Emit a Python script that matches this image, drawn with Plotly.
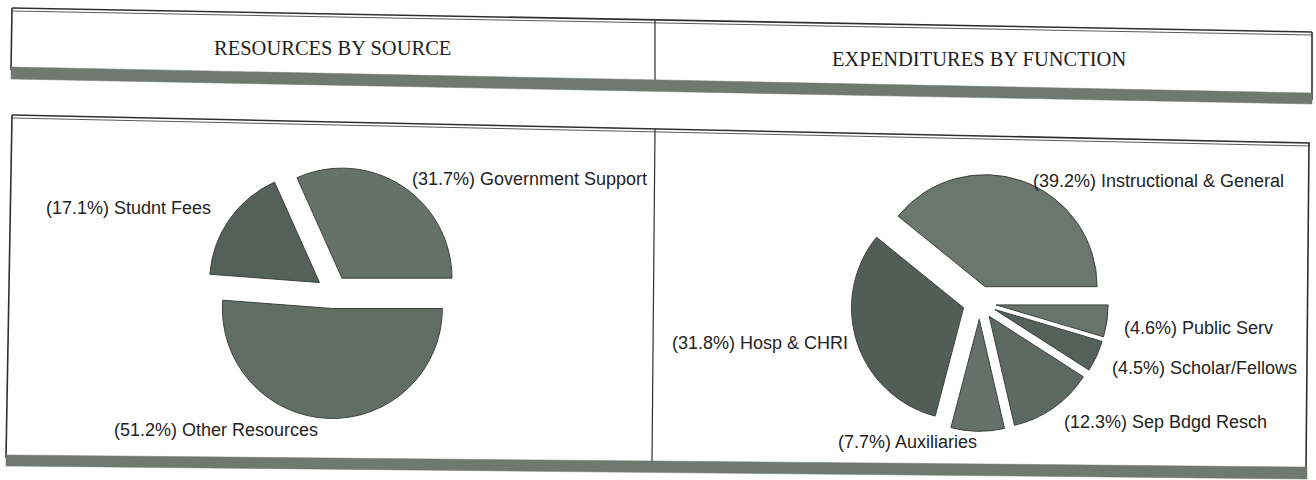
import plotly.graph_objects as go

W, H = 1316, 480

# ---------------- data ----------------
left_title = "RESOURCES BY SOURCE"
right_title = "EXPENDITURES BY FUNCTION"

left_labels = ["Government Support", "Studnt Fees", "Other Resources"]
left_values = [31.7, 17.1, 51.2]

right_labels = ["Instructional & General", "Hosp & CHRI", "Auxiliaries",
                "Sep Bdgd Resch", "Scholar/Fellows", "Public Serv"]
right_values = [39.2, 31.8, 7.7, 12.3, 4.5, 4.6]

# ---------------- styles / layout ----------------
left_colors = ["rgb(101,114,106)", "rgb(84,97,90)", "rgb(97,110,102)"]
right_colors = ["rgb(106,118,110)", "rgb(80,94,87)", "rgb(100,112,105)",
                "rgb(92,105,98)", "rgb(84,97,91)", "rgb(104,115,109)"]

PULL = 0.15
LEFT_PIE = (333, 292, 110)     # centre x, centre y, radius (pixels)
RIGHT_PIE = (979.5, 302.5, 112)

# label anchor (left x, middle y) in pixels
left_label_pos = [(410, 179), (44, 208), (112, 430)]
right_label_pos = [(1031, 181), (670, 343), (836, 442), (1062, 422), (1110, 368), (1122, 328)]

LABEL_FONT = dict(family="Liberation Sans, Arial, sans-serif", size=18, color="rgb(35,35,35)")
TITLE_FONT = dict(family="Liberation Serif, Times New Roman, serif", size=20.5, color="rgb(30,30,30)")
LINE_COL = "rgb(45,48,46)"
BAND_COL = "rgb(112,120,114)"


def px(x):
    return x / W


def py(y):
    return 1 - y / H


def domain(cx, cy, r, pull):
    half = r * (1 + pull)
    return dict(x=[px(cx - half), px(cx + half)], y=[py(cy + half), py(cy - half)])


def first_slice_rotation(values):
    # counterclockwise pies in plotly put the first slice clockwise of `rotation`;
    # choose rotation so the first slice starts at 3 o'clock and runs counterclockwise
    return 90 - 360 * values[0] / sum(values)


def path(points, close=False):
    s = "M " + " L ".join(f"{px(x):.5f},{py(y):.5f}" for x, y in points)
    return s + (" Z" if close else "")


fig = go.Figure()

fig.add_trace(go.Pie(
    labels=left_labels, values=left_values, sort=False,
    direction="counterclockwise", rotation=first_slice_rotation(left_values),
    pull=[PULL] * len(left_values),
    marker=dict(colors=left_colors, line=dict(color="rgb(60,66,62)", width=1)),
    textinfo="none", hoverinfo="label+percent",
    domain=domain(*LEFT_PIE, PULL), showlegend=False,
))

fig.add_trace(go.Pie(
    labels=right_labels, values=right_values, sort=False,
    direction="counterclockwise", rotation=first_slice_rotation(right_values),
    pull=[PULL] * len(right_values),
    marker=dict(colors=right_colors, line=dict(color="rgb(60,66,62)", width=1)),
    textinfo="none", hoverinfo="label+percent",
    domain=domain(*RIGHT_PIE, PULL), showlegend=False,
))

annotations = []
for lab, val, (x, y) in zip(left_labels, left_values, left_label_pos):
    annotations.append(dict(text=f"({val:.1f}%) {lab}", x=px(x), y=py(y), xref="paper", yref="paper",
                            xanchor="left", yanchor="middle", showarrow=False, font=LABEL_FONT))
for lab, val, (x, y) in zip(right_labels, right_values, right_label_pos):
    annotations.append(dict(text=f"({val:.1f}%) {lab}", x=px(x), y=py(y), xref="paper", yref="paper",
                            xanchor="left", yanchor="middle", showarrow=False, font=LABEL_FONT))

annotations.append(dict(text=left_title, x=px(332), y=py(48), xref="paper", yref="paper",
                        xanchor="center", yanchor="middle", showarrow=False, font=TITLE_FONT))
annotations.append(dict(text=right_title, x=px(979), y=py(59), xref="paper", yref="paper",
                        xanchor="center", yanchor="middle", showarrow=False, font=TITLE_FONT))

shapes = []


def line(points, width=1.6):
    shapes.append(dict(type="path", path=path(points), xref="paper", yref="paper",
                       line=dict(color=LINE_COL, width=width), layer="below"))


def band(points):
    shapes.append(dict(type="path", path=path(points, close=True), xref="paper", yref="paper",
                       fillcolor=BAND_COL, line=dict(color=BAND_COL, width=0.5), layer="below"))


# header box
line([(12, 8), (1312, 32)])
line([(12, 11), (1312, 35)], width=0.8)
line([(12, 8), (11, 70)])
line([(1312, 32), (1312, 100)])
line([(655, 20), (655, 80)], width=1.2)
band([(11, 67), (1312, 93), (1312, 104), (11, 79)])

# lower box
line([(12, 115), (1310, 143)])
line([(12, 118), (1310, 146)], width=0.8)
line([(12, 115), (6, 458)])
line([(1309, 143), (1306, 470)])
line([(655, 129), (652, 462)], width=1.2)
band([(6, 455), (1307, 467), (1307, 479), (6, 466)])

fig.update_layout(
    width=W, height=H,
    margin=dict(l=0, r=0, t=0, b=0),
    paper_bgcolor="white", plot_bgcolor="white",
    annotations=annotations, shapes=shapes,
    showlegend=False,
)

fig.write_html(
    "out.html",
    config={"displayModeBar": False},
    post_script="document.body.style.margin='0px';document.body.style.overflow='hidden';",
)
